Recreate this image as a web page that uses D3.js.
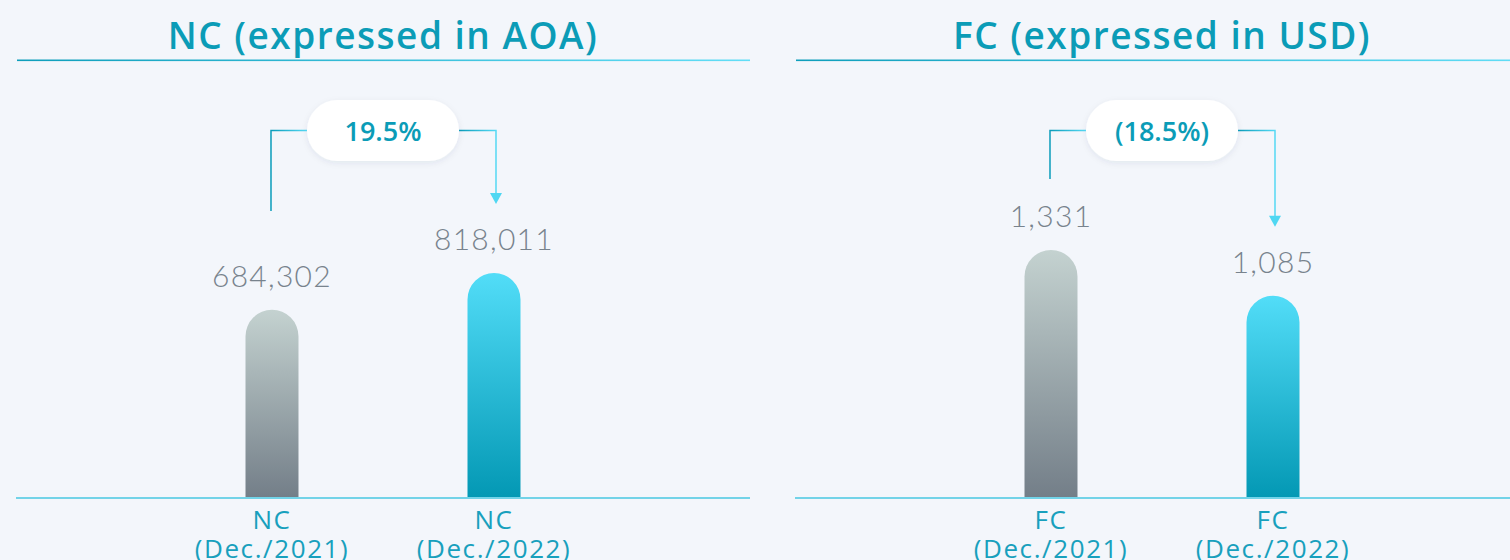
<!DOCTYPE html>
<html>
<head>
<meta charset="utf-8">
<script src="https://cdn.jsdelivr.net/npm/d3@7"></script>
<style>
  html, body { margin: 0; padding: 0; background: #f3f6fb; }
  svg { display: block; }
</style>
</head>
<body>
<svg id="chart" width="1510" height="560"></svg>
<script>
// ---- data ----
const ncTitle = "NC (expressed in AOA)";
const ncTickLabels = [["NC", "(Dec./2021)"], ["NC", "(Dec./2022)"]];
const ncValues = [684302, 818011];

const fcTitle = "FC (expressed in USD)";
const fcTickLabels = [["FC", "(Dec./2021)"], ["FC", "(Dec./2022)"]];
const fcValues = [1331, 1085];

// ---- layout ----
const W = 1510, H = 560;
const panelW = 734;
const baseY = 498;
const panels = [
  { title: ncTitle, ticks: ncTickLabels, values: ncValues, x0: 16, maxTop: 273 },
  { title: fcTitle, ticks: fcTickLabels, values: fcValues, x0: 795, maxTop: 250 }
];

const svg = d3.select("#chart");
svg.append("rect").attr("width", W).attr("height", H).attr("fill", "#f3f6fb");

const defs = svg.append("defs");
function vGrad(id, top, bottom) {
  const g = defs.append("linearGradient").attr("id", id)
    .attr("x1", 0).attr("y1", 0).attr("x2", 0).attr("y2", 1);
  g.append("stop").attr("offset", "0%").attr("stop-color", top);
  g.append("stop").attr("offset", "100%").attr("stop-color", bottom);
}
function hGrad(id, left, right) {
  const g = defs.append("linearGradient").attr("id", id)
    .attr("x1", 0).attr("y1", 0).attr("x2", 1).attr("y2", 0);
  g.append("stop").attr("offset", "0%").attr("stop-color", left);
  g.append("stop").attr("offset", "100%").attr("stop-color", right);
}
vGrad("barPrev", "#c4d2d0", "#737e88");
vGrad("barCurr", "#52ddf8", "#0398b4");
hGrad("rule", "#0e9ebb", "#62def7");
hGrad("bracket", "#0a9cba", "#55d9f4");

const shadow = defs.append("filter").attr("id", "pillShadow")
  .attr("x", "-20%").attr("y", "-40%").attr("width", "140%").attr("height", "180%");
shadow.append("feDropShadow").attr("dx", 0).attr("dy", 2).attr("stdDeviation", 3)
  .attr("flood-color", "#0b3a55").attr("flood-opacity", 0.08);

const fmt = d3.format(",");
const pctFmt = d3.format(".1%");
const barFills = ["url(#barPrev)", "url(#barCurr)"];

// rounded-top bar path
function barPath(x, w, top, bottom) {
  const r = w / 2;
  return `M${x},${bottom}V${top + r}A${r},${r} 0 0 1 ${x + w},${top + r}V${bottom}Z`;
}

panels.forEach(p => {
  const g = svg.append("g");
  const cats = p.ticks.map(t => t.join(" "));

  const x = d3.scaleBand().domain(cats)
    .range([p.x0, p.x0 + panelW])
    .paddingInner(0.7613).paddingOuter(1.0338);
  const y = d3.scaleLinear().domain([0, d3.max(p.values)]).range([baseY, p.maxTop]);
  const bw = x.bandwidth();
  const cx = c => x(c) + bw / 2;

  // title + underline
  g.append("text")
    .attr("x", p.x0 + panelW / 2).attr("y", 49)
    .attr("text-anchor", "middle")
    .attr("font-family", "'Open Sans', sans-serif")
    .attr("font-weight", 600).attr("font-size", 37)
    .attr("letter-spacing", 1.5)
    .attr("fill", "#0b9cb7")
    .text(p.title);
  g.append("rect")
    .attr("x", p.x0 + 1).attr("y", 59.5).attr("width", panelW - 1).attr("height", 1.6)
    .attr("fill", "url(#rule)");

  // bars
  g.selectAll("path.bar").data(p.values).join("path")
    .attr("class", "bar")
    .attr("d", (v, i) => barPath(x(cats[i]), bw, y(v), baseY))
    .attr("fill", (v, i) => barFills[i]);

  // value labels
  g.selectAll("text.val").data(p.values).join("text")
    .attr("class", "val")
    .attr("x", (v, i) => cx(cats[i]))
    .attr("y", v => y(v) - 23)
    .attr("text-anchor", "middle")
    .attr("font-family", "Lato, sans-serif")
    .attr("font-weight", 300).attr("font-size", 30)
    .attr("letter-spacing", 1.3)
    .attr("fill", "#78838d")
    .text(v => fmt(v));

  // baseline axis
  const axis = d3.axisBottom(x).tickSize(0).tickFormat("");
  const ax = g.append("g").attr("transform", `translate(0,${baseY})`).call(axis);
  ax.select(".domain")
    .attr("d", `M${p.x0},0H${p.x0 + panelW}`)
    .attr("stroke", "#72d3e8").attr("stroke-width", 2);

  // two-line category labels
  ax.selectAll(".tick").each(function(c, i) {
    const t = d3.select(this).append("text")
      .attr("text-anchor", "middle")
      .attr("font-family", "'Open Sans', sans-serif")
      .attr("font-weight", 400).attr("font-size", 26)
      .attr("letter-spacing", 1.6)
      .attr("fill", "#18a0bd");
    p.ticks[i].forEach((line, k) => {
      t.append("tspan").attr("x", 0).attr("y", 31 + k * 29).text(line);
    });
  });

  // change bracket
  const change = p.values[1] / p.values[0] - 1;
  const changeLabel = change < 0 ? `(${pctFmt(-change)})` : pctFmt(change);
  const midX = p.x0 + panelW / 2;
  const pillW = 152, pillH = 61, pillY = 100;
  const lineY = pillY + pillH / 2;
  const x1 = cx(cats[0]) - 1, x2 = cx(cats[1]) + 2;
  const tipY = y(p.values[1]) - 69;
  const labelTop0 = y(p.values[0]) - 44;
  const startEnd = Math.min(labelTop0 - 27, tipY + 7);

  g.append("path")
    .attr("d", `M${x1},${startEnd}V${lineY}H${midX - pillW / 2}`)
    .attr("fill", "none").attr("stroke", "url(#bracket)").attr("stroke-width", 1.5);
  g.append("path")
    .attr("d", `M${midX + pillW / 2},${lineY}H${x2}V${tipY - 10}`)
    .attr("fill", "none").attr("stroke", "url(#bracket)").attr("stroke-width", 1.5);
  g.append("path")
    .attr("d", `M${x2 - 6},${tipY - 11}L${x2 + 6},${tipY - 11}L${x2},${tipY}Z`)
    .attr("fill", "#4fd7f2");

  g.append("rect")
    .attr("x", midX - pillW / 2).attr("y", pillY)
    .attr("width", pillW).attr("height", pillH)
    .attr("rx", pillH / 2).attr("ry", pillH / 2)
    .attr("fill", "#ffffff").attr("filter", "url(#pillShadow)");
  g.append("text")
    .attr("x", midX).attr("y", lineY + 10)
    .attr("text-anchor", "middle")
    .attr("font-family", "'Open Sans', sans-serif")
    .attr("font-weight", 600).attr("font-size", 27)
    .attr("fill", "#0b9cb7")
    .text(changeLabel);
});
</script>
</body>
</html>
